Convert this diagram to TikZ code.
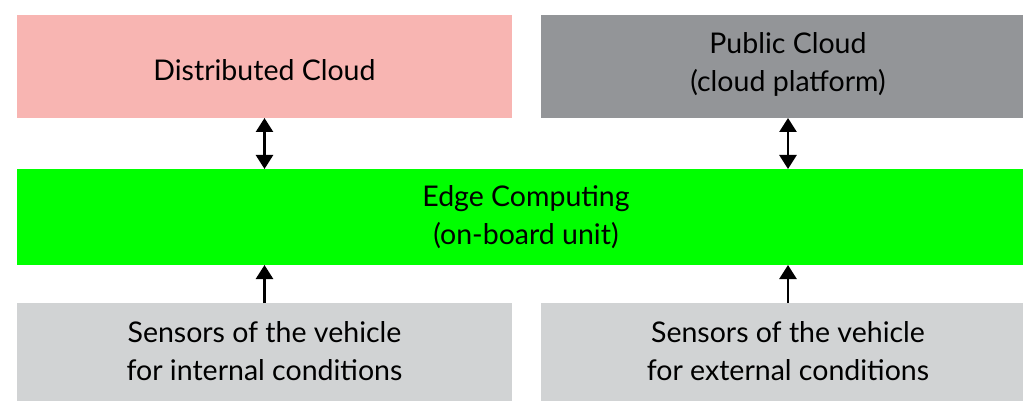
\documentclass[tikz,border=0pt]{standalone}
\usepackage{fontspec}
\setmainfont{Lato}
\usetikzlibrary{arrows.meta}
\definecolor{pinkc}{HTML}{F8B5B2}
\definecolor{darkg}{HTML}{939598}
\definecolor{lightg}{HTML}{D1D3D4}
\definecolor{greenc}{HTML}{00FF00}
\begin{document}
\begin{tikzpicture}[x=1pt,y=-1pt,
  box/.style={inner sep=0pt,outer sep=0pt,align=center,text=black,
    font=\fontsize{28.5}{38}\selectfont},
  arr/.style={line width=2.6pt,-{Triangle[width=17pt,length=14pt]}},
  darr/.style={line width=2.6pt,{Triangle[width=17pt,length=14pt]}-{Triangle[width=17pt,length=14pt]}}]
\useasboundingbox (0,0) rectangle (1023,401);
\clip (0,0) rectangle (1023,401);
\fill[pinkc] (17,15) rectangle (512,118);
\fill[darkg] (541,15) rectangle (1035,118);
\fill[greenc] (17,169) rectangle (1035,265);
\fill[lightg] (17,303) rectangle (512,401);
\fill[lightg] (541,303) rectangle (1035,401);
\node[box] (dc) at (264.5,70) {Distributed Cloud};
\node[box] (pc) at (788,64) {Public Cloud\\(cloud platform)};
\node[box] (ec) at (526,217) {Edge Computing\\(on-board unit)};
\node[box] (si) at (264.5,351) {Sensors of the vehicle\\for internal conditions};
\node[box] (se) at (788,351) {Sensors of the vehicle\\for external conditions};
\coordinate (dcb) at (264.5,118);
\coordinate (pcb) at (788,118);
\coordinate (ect1) at (264.5,169);
\coordinate (ect2) at (788,169);
\coordinate (ecb1) at (264.5,265);
\coordinate (ecb2) at (788,265);
\coordinate (sit) at (264.5,303);
\coordinate (set) at (788,303);
\draw[darr] (dcb) -- (ect1);
\draw[darr] (pcb) -- (ect2);
\draw[arr] (sit) -- (ecb1);
\draw[arr] (set) -- (ecb2);
\end{tikzpicture}
\end{document}
